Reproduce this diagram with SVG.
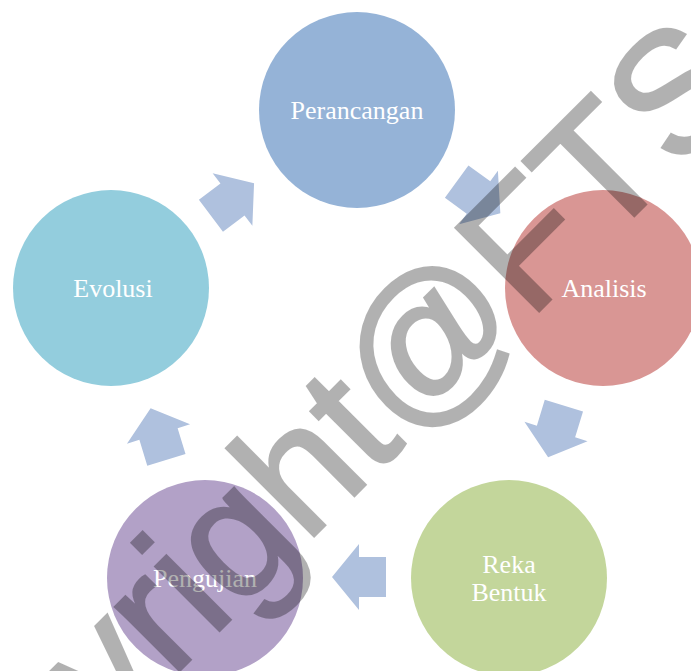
<svg xmlns="http://www.w3.org/2000/svg" width="691" height="671" viewBox="0 0 691 671">
<style>
.lbl{font-family:"Liberation Serif","Times New Roman",serif;font-size:26px;fill:#ffffff;text-anchor:middle}
.arr{fill:#afc1de}
.wm{font-family:"Liberation Sans",Arial,sans-serif;font-size:171px;fill:#000000;stroke:#000000;stroke-width:3;stroke-linejoin:miter}
</style>
<defs>
<path id="blk" d="M-27,-20 H0 V-33 L27,0 L0,33 V20 H-27 Z"/>
</defs>
<rect width="691" height="671" fill="#ffffff"/>
<g id="connectors">
<use href="#blk" class="arr" transform="translate(478.5,197.5) rotate(36)"/>
<use href="#blk" class="arr" transform="translate(556,431.5) rotate(107)"/>
<use href="#blk" class="arr" transform="translate(359,577) rotate(180)"/>
<use href="#blk" class="arr" transform="translate(158.5,434) rotate(-107)"/>
<use href="#blk" class="arr" transform="translate(232.5,199.5) rotate(-37)"/>
</g>
<g id="perancangan">
<circle cx="357" cy="110" r="98" fill="#95b3d7"/>
<text class="lbl" x="357" y="119">Perancangan</text>
</g>
<g id="analisis">
<circle cx="603" cy="288" r="98" fill="#d99694"/>
<text class="lbl" x="604" y="297">Analisis</text>
</g>
<g id="reka-bentuk">
<circle cx="509" cy="578" r="98" fill="#c3d69b"/>
<text class="lbl" x="509" y="573">Reka</text>
<text class="lbl" x="509" y="601">Bentuk</text>
</g>
<g id="pengujian">
<circle cx="205" cy="578" r="98" fill="#b2a1c7"/>
<text class="lbl" x="205" y="587">Pengujian</text>
</g>
<g id="evolusi">
<circle cx="111" cy="288" r="98" fill="#93cddd"/>
<text class="lbl" x="113" y="297">Evolusi</text>
</g>
<g id="watermark" opacity="0.3">
<text class="wm" transform="translate(-111,961) rotate(-45)">Copyright@FTS</text>
</g>
</svg>
